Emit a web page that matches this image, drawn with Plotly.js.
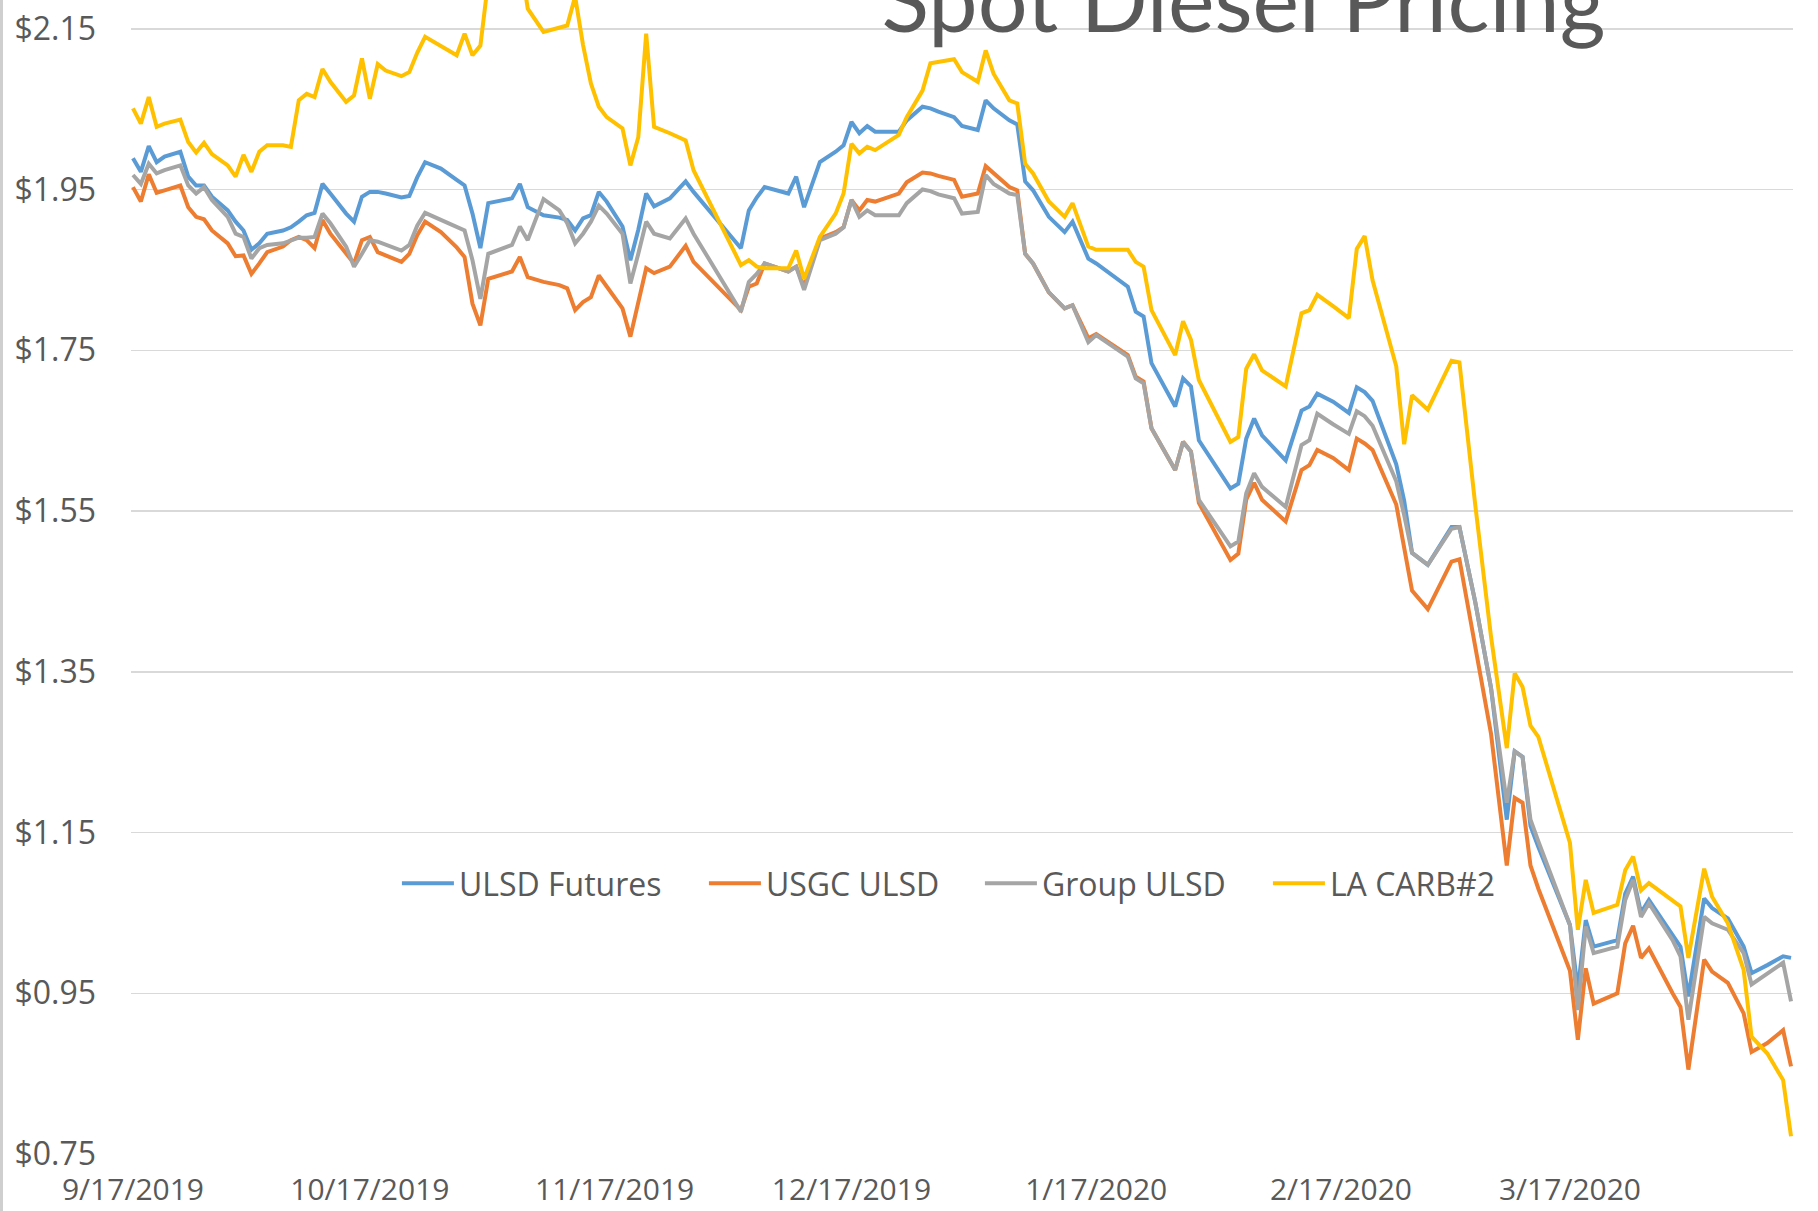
<!DOCTYPE html>
<html><head><meta charset="utf-8">
<script src="https://cdn.plot.ly/plotly-3.0.1.min.js"></script>
<style>
html,body{margin:0;padding:0;width:1818px;height:1211px;overflow:hidden;background:#fff;}
#wrap{position:relative;width:1818px;height:1211px;overflow:hidden;background:#fff;}
#chart{position:absolute;left:0;top:-200px;width:1818px;height:1411px;}
#edge{position:absolute;left:0;top:0;width:3px;height:1211px;background:#cfcfcf;}
</style></head><body>
<div id="wrap"><div id="chart"></div><div id="edge"></div></div>
<script>
const dates = [
'2019-09-17','2019-09-18','2019-09-19','2019-09-20','2019-09-21','2019-09-23','2019-09-24','2019-09-25','2019-09-26','2019-09-27','2019-09-29','2019-09-30',
'2019-10-01','2019-10-02','2019-10-03','2019-10-04','2019-10-06','2019-10-07','2019-10-08','2019-10-09','2019-10-10','2019-10-11','2019-10-12','2019-10-14','2019-10-15','2019-10-16','2019-10-17','2019-10-18','2019-10-19','2019-10-21','2019-10-22','2019-10-23','2019-10-24','2019-10-26','2019-10-28','2019-10-29','2019-10-30','2019-10-31',
'2019-11-01','2019-11-03','2019-11-04','2019-11-05','2019-11-06','2019-11-08','2019-11-10','2019-11-11','2019-11-12','2019-11-13','2019-11-14','2019-11-15','2019-11-16','2019-11-18','2019-11-19','2019-11-20','2019-11-21','2019-11-22','2019-11-24','2019-11-26','2019-11-27',
'2019-12-03','2019-12-04','2019-12-05','2019-12-06','2019-12-09','2019-12-10','2019-12-11','2019-12-13','2019-12-15','2019-12-16','2019-12-17','2019-12-18','2019-12-19','2019-12-20','2019-12-23','2019-12-24','2019-12-26','2019-12-27','2019-12-28','2019-12-30','2019-12-31',
'2020-01-02','2020-01-03','2020-01-04','2020-01-06','2020-01-07','2020-01-08','2020-01-09','2020-01-11','2020-01-13','2020-01-14','2020-01-16','2020-01-17','2020-01-21','2020-01-22','2020-01-23','2020-01-24','2020-01-27','2020-01-28','2020-01-29','2020-01-30',
'2020-02-03','2020-02-04','2020-02-05','2020-02-06','2020-02-07','2020-02-10','2020-02-12','2020-02-13','2020-02-14','2020-02-16','2020-02-18','2020-02-19','2020-02-20','2020-02-21','2020-02-24','2020-02-25','2020-02-26','2020-02-28',
'2020-03-02','2020-03-03','2020-03-05','2020-03-07','2020-03-09','2020-03-10','2020-03-11','2020-03-12','2020-03-13','2020-03-17','2020-03-18','2020-03-19','2020-03-20','2020-03-23','2020-03-24','2020-03-25','2020-03-26','2020-03-27','2020-03-30','2020-03-31',
'2020-04-01','2020-04-03','2020-04-04','2020-04-06','2020-04-08','2020-04-09','2020-04-11','2020-04-13','2020-04-14'
];
const ulsdFutures = [
1.989,1.972,2.004,1.984,1.991,1.997,1.966,1.955,1.955,1.941,1.924,1.910,
1.899,1.875,1.883,1.895,1.899,1.903,1.910,1.918,1.921,1.957,1.945,1.920,1.910,1.941,1.947,1.947,1.945,1.940,1.942,1.965,1.984,1.976,1.962,1.955,1.920,1.877,
1.933,1.937,1.939,1.957,1.928,1.918,1.915,1.912,1.899,1.914,1.918,1.947,1.935,1.904,1.862,1.900,1.945,1.929,1.939,1.960,1.947,
1.877,1.924,1.940,1.953,1.945,1.966,1.928,1.984,1.997,2.005,2.034,2.020,2.029,2.022,2.022,2.036,2.053,2.051,2.047,2.040,2.029,
2.024,2.061,2.051,2.036,2.031,1.960,1.949,1.916,1.897,1.910,1.864,1.858,1.829,1.798,1.792,1.734,1.680,1.715,1.705,1.638,
1.578,1.584,1.640,1.665,1.644,1.613,1.675,1.680,1.696,1.686,1.672,1.704,1.698,1.687,1.608,1.563,1.498,1.483,
1.530,1.530,1.437,1.330,1.166,1.251,1.244,1.158,1.132,1.035,0.954,1.041,1.008,1.016,1.074,1.095,1.050,1.066,1.021,1.008,
0.946,1.068,1.056,1.043,1.008,0.975,0.985,0.996,0.994
];
const usgcUlsd = [
1.953,1.935,1.969,1.946,1.949,1.955,1.928,1.916,1.913,1.899,1.883,1.867,
1.868,1.845,1.858,1.872,1.879,1.887,1.891,1.887,1.877,1.912,1.895,1.870,1.858,1.887,1.891,1.872,1.868,1.860,1.870,1.893,1.910,1.897,1.878,1.866,1.808,1.781,
1.839,1.845,1.848,1.866,1.841,1.835,1.831,1.827,1.800,1.810,1.816,1.843,1.830,1.802,1.767,1.810,1.852,1.846,1.854,1.880,1.860,
1.800,1.829,1.833,1.858,1.848,1.854,1.829,1.889,1.897,1.903,1.937,1.924,1.937,1.935,1.945,1.959,1.971,1.970,1.967,1.962,1.941,
1.945,1.979,1.970,1.953,1.949,1.870,1.858,1.822,1.802,1.806,1.765,1.770,1.744,1.717,1.711,1.653,1.601,1.636,1.624,1.560,
1.489,1.497,1.564,1.585,1.564,1.537,1.601,1.607,1.626,1.616,1.601,1.640,1.634,1.626,1.558,1.505,1.451,1.428,
1.487,1.490,1.380,1.273,1.109,1.193,1.187,1.109,1.080,0.978,0.892,0.981,0.937,0.950,1.012,1.034,0.994,1.006,0.950,0.933,
0.855,0.992,0.977,0.963,0.925,0.877,0.888,0.904,0.859
];
const groupUlsd = [
1.968,1.957,1.982,1.970,1.974,1.980,1.955,1.945,1.953,1.937,1.916,1.895,
1.891,1.864,1.877,1.881,1.883,1.887,1.890,1.890,1.891,1.920,1.908,1.879,1.854,1.870,1.887,1.885,1.881,1.874,1.881,1.905,1.921,1.912,1.903,1.899,1.862,1.814,
1.870,1.877,1.881,1.904,1.887,1.938,1.924,1.908,1.883,1.895,1.910,1.930,1.920,1.895,1.833,1.870,1.910,1.895,1.889,1.914,1.895,
1.798,1.835,1.845,1.858,1.848,1.854,1.825,1.887,1.895,1.903,1.937,1.916,1.924,1.918,1.918,1.933,1.950,1.948,1.944,1.939,1.920,
1.922,1.968,1.957,1.945,1.943,1.870,1.858,1.822,1.802,1.806,1.760,1.769,1.742,1.715,1.709,1.653,1.601,1.636,1.624,1.564,
1.506,1.512,1.572,1.597,1.580,1.555,1.632,1.638,1.671,1.658,1.646,1.674,1.668,1.656,1.587,1.545,1.498,1.483,
1.528,1.530,1.437,1.330,1.187,1.251,1.244,1.166,1.139,1.035,0.929,1.033,1.000,1.008,1.066,1.091,1.045,1.062,1.016,0.996,
0.917,1.045,1.037,1.029,1.000,0.961,0.975,0.988,0.940
];
const laCarb2 = [
2.051,2.032,2.065,2.028,2.032,2.037,2.009,1.996,2.008,1.994,1.980,1.966,
1.993,1.972,1.997,2.005,2.005,2.003,2.061,2.069,2.065,2.100,2.084,2.059,2.067,2.113,2.063,2.106,2.098,2.091,2.096,2.120,2.140,2.129,2.117,2.144,2.117,2.129,
2.210,2.230,2.220,2.240,2.175,2.146,2.151,2.154,2.190,2.130,2.082,2.053,2.040,2.026,1.980,2.015,2.144,2.028,2.020,2.011,1.974,
1.856,1.862,1.854,1.852,1.852,1.874,1.839,1.891,1.920,1.945,2.007,1.995,2.003,1.999,2.018,2.040,2.073,2.107,2.109,2.112,2.096,
2.084,2.123,2.094,2.061,2.057,1.982,1.970,1.935,1.916,1.933,1.879,1.875,1.875,1.860,1.854,1.800,1.744,1.786,1.763,1.713,
1.636,1.642,1.727,1.745,1.725,1.705,1.796,1.800,1.819,1.805,1.790,1.876,1.892,1.837,1.730,1.633,1.694,1.676,
1.737,1.735,1.558,1.394,1.255,1.348,1.331,1.283,1.269,1.137,1.029,1.091,1.050,1.060,1.103,1.120,1.078,1.087,1.065,1.058,
0.994,1.105,1.070,1.037,0.979,0.896,0.875,0.842,0.772
];
const seriesNames = ['ULSD Futures','USGC ULSD','Group ULSD','LA CARB#2'];
const seriesValues = [ulsdFutures, usgcUlsd, groupUlsd, laCarb2];
const seriesColors = ['#5B9BD5','#ED7D31','#A5A5A5','#FFC000'];
const legendEntryWidths = [240, 209, 221, 175];
const xTickDates = ['2019-09-17','2019-10-17','2019-11-17','2019-12-17','2020-01-17','2020-02-17','2020-03-17'];
const yTicks = [0.75,0.95,1.15,1.35,1.55,1.75,1.95,2.15];
const chartTitle = 'Spot Diesel Pricing';

const traces = seriesNames.map((n,i)=>({
  type:'scatter', mode:'lines', name:n, x:dates, y:seriesValues[i],
  line:{color:seriesColors[i], width:4}, legendwidth:legendEntryWidths[i]
}));
const layout = {
  width:1818, height:1411,
  margin:{l:131, r:25, t:68, b:57},
  paper_bgcolor:'#ffffff', plot_bgcolor:'#ffffff',
  title:{text:chartTitle, font:{family:'Lato, sans-serif', size:88, color:'#595959', weight:400},
         x:0.684, xanchor:'center', xref:'container', y:0.8356, yanchor:'bottom', yref:'container'},
  showlegend:true,
  legend:{orientation:'h', x:0.16, xanchor:'left', y:0.2103, yanchor:'middle',
          font:{family:'Open Sans, sans-serif', size:32, color:'#595959'}, bgcolor:'rgba(0,0,0,0)', itemwidth:52},
  xaxis:{type:'date', range:['2019-09-16 18:00','2020-04-14 06:00'], tickvals:xTickDates, tickformat:'%-m/%-d/%Y',
         showgrid:false, zeroline:false, showline:false, ticks:'',
         tickfont:{family:'Open Sans, sans-serif', size:30, color:'#595959'}, ticklabelstandoff:15},
  yaxis:{range:[0.75,2.35], tickvals:yTicks, tickformat:'$.2f', showgrid:true, gridcolor:'#d9d9d9', gridwidth:1.5,
         zeroline:false, showline:false, ticks:'',
         tickfont:{family:'Open Sans, sans-serif', size:32, color:'#595959'}, ticklabelstandoff:34}
};
Plotly.newPlot('chart', traces, layout, {displayModeBar:false, staticPlot:true});
</script>
</body></html>
